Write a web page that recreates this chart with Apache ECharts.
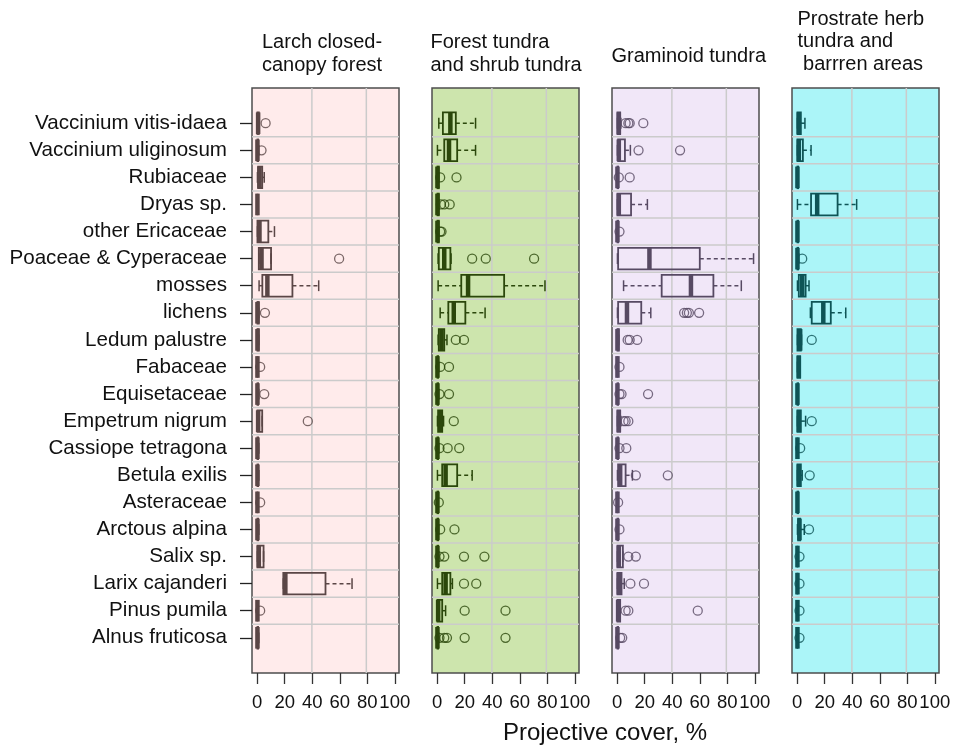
<!DOCTYPE html>
<html>
<head>
<meta charset="utf-8">
<script src="https://cdn.jsdelivr.net/npm/echarts@6/dist/echarts.min.js"></script>
<style>
html,body{margin:0;padding:0;background:#ffffff;}
#chart{width:959px;height:749px;}
</style>
</head>
<body>
<div id="chart"></div>
<script>
// ---------------- DATA ----------------
const categories = [
  "Vaccinium vitis-idaea", "Vaccinium uliginosum", "Rubiaceae", "Dryas sp.",
  "other Ericaceae", "Poaceae & Cyperaceae", "mosses", "lichens",
  "Ledum palustre", "Fabaceae", "Equisetaceae", "Empetrum nigrum",
  "Cassiope tetragona", "Betula exilis", "Asteraceae", "Arctous alpina",
  "Salix sp.", "Larix cajanderi", "Pinus pumila", "Alnus fruticosa"
];

const panelTitles = [
  "Larch closed-\ncanopy forest",
  "Forest tundra\nand shrub tundra",
  "Graminoid tundra",
  "Prostrate herb\ntundra and\n barrren areas"
];

const xTickMin = 0, xTickMax = 100, xTickStep = 20;
const xGridLines = [40, 80];
const xAxisTitle = "Projective cover, %";

// [min, q1, median, q3, max] per category (top to bottom)
const larchStats = [
  [0,0,0.5,1,1], [0,0,0,0.5,1], [0,0.5,1.5,3.5,5], [0,0,0,0,0.5],
  [0,0,1.5,8,12.5], [1,1,3,10,10], [1.2,3.6,7.3,25.7,45], [0,0,0,1,1],
  [0,0,0,1,1], [0,0,0,0,0], [0,0,0,0.5,1], [0,0,0.5,3.5,3.5],
  [0,0,0,0.5,1], [0,0,0,0.5,1], [0,0,0,0,0], [0,0,0,0.5,1],
  [0,0,1,4.5,4.5], [19,19,20.5,50,69.5], [0,0,0,0,0], [0,0,0,0.5,1]
];
const larchOutliers = [
  [6], [3], [], [], [], [60], [], [5.5], [], [2],
  [5], [37], [], [], [2], [], [], [], [2], []
];

const forestTundraStats = [
  [1,4,9.5,13.5,28], [0,5,8.5,14.5,28], [0,0,0,1,1], [0,0,0,1,1],
  [0,0,0,1,1], [0.5,1,5,9.5,10], [0.5,17.5,22.5,49,79], [2,8,12,20.5,35],
  [0.5,1,3,5,7], [0,0,0,0.5,1], [0,0,0,0.5,1], [0,0.5,2,3.5,4.5],
  [0,0,0,0.5,1], [0,3.5,6,14.5,25.5], [0,0,0,0.5,0.5], [0,0,0,0.5,1],
  [0,0,0,0.5,1], [0,3.5,6,9.5,11], [0,0,0.5,3.5,6], [0,0,0,0.5,1]
];
const forestTundraOutliers = [
  [], [], [2,14], [2.5,5,9], [2,3], [25.5,35.5,71], [], [], [13.5,19.5], [2,8.5],
  [1.5,8.5], [12], [1.5,7.5,16], [], [1], [2,12.5], [1.5,5,19.5,34.5], [19.5,28.5], [20,50], [1.5,5,7,20,50]
];

const graminoidStats = [
  [0,0,1,2,2.5], [0,0.5,1,5.5,9.5], [0,0,0,0.5,0.5], [0,0,1,10,22],
  [0,0,0,0.5,0.5], [0,0.5,23.5,60.5,100], [4.5,32.5,54,70.5,91], [0,0.5,7,17.5,24.5],
  [0,0,0,1,1], [0,0,0,0,0], [0,0,0,0.5,0.5], [0,0,1,2,2.5],
  [0,0,0,0.5,0.5], [0,0.5,2,6,11], [0,0,0,0,0], [0,0,0,0.5,0.5],
  [0,0,1,4,4], [0,0,1,3,5], [0,0,0.5,2,2], [0,0,0,0.5,0.5]
];
const graminoidOutliers = [
  [6,8,9,19], [15.5,46], [1,9], [], [1.5], [], [], [49,51,52.5,60], [7.5,9,14.5], [1.5],
  [1.5,3,22.5], [4.5,6,8], [1.5,6.5], [13.5,37], [0.5], [1.5], [8,13.5], [9.5,19.5], [6,8,59], [2,3.5]
];

const prostrateStats = [
  [0,0,1,2.5,5.5], [0,0,1,4,10], [0,0,0,0.5,0.5], [0,10,14.5,29.5,43.5],
  [0,0,0,0.5,0.5], [0,0,0,0.5,1], [0,1,3.5,6,8.5], [9.5,10.5,19,24.5,35.5],
  [0,0,2,2.5,3], [0,0,1,2,2], [0,0,0,0.5,0.5], [0,0,1,2.5,6],
  [0,0,0,0,0], [0,0,1,2.5,3.5], [0,0,0,0.5,0.5], [0,0.5,1.5,2,5],
  [0,0,0,0,0], [0,0,0,0,0], [0,0,0,0,0], [0,0,0,0,0]
];
const prostrateOutliers = [
  [], [], [], [], [], [3.5], [], [], [10.5], [],
  [], [10.5], [2], [9], [], [8.5], [1.5], [1.5], [1.5], [1.5]
];

// ---------------- LAYOUT / STYLE ----------------
const FONT = "'Liberation Sans', Arial, sans-serif";
const panels = [
  {stats: larchStats, outliers: larchOutliers, left: 252, bg: '#FFEBEB', color: '#5a4646', titleLeft: 262, titleTop: 31.5, lh: 22.7},
  {stats: forestTundraStats, outliers: forestTundraOutliers, left: 432, bg: '#CDE5AD', color: '#2b470b', titleLeft: 430.5, titleTop: 31.5, lh: 22.7},
  {stats: graminoidStats, outliers: graminoidOutliers, left: 612, bg: '#F1E7F8', color: '#574a63', titleLeft: 611.5, titleTop: 45, lh: 22.7},
  {stats: prostrateStats, outliers: prostrateOutliers, left: 792, bg: '#ABF5F8', color: '#0e5456', titleLeft: 797.5, titleTop: 8.6, lh: 22.2}
];
const PANEL_W = 147, PANEL_TOP = 88, PANEL_H = 585;
const X_LO = -4, X_HI = 104;           // R-style 4% extension
const Y_LO = -1.3, Y_HI = categories.length + 0.3; // rows 0..19 with extension
const rowPx = PANEL_H / (Y_HI - Y_LO);

function boxRenderer(color) {
  return function (params, api) {
    const k = api.value(0);
    const yc = api.coord([0, k])[1];
    const h = api.size([0, 1])[1] * 0.4;
    const px = [1, 2, 3, 4, 5].map(i => api.coord([api.value(i), k])[0]);
    const xmin = px[0], xq1 = px[1], xmed = px[2], xq3 = px[3], xmax = px[4];
    const ch = [];
    const wStyle = {stroke: color, lineWidth: 1.5, lineDash: [4, 3], fill: 'none'};
    if (xq1 - xmin > 0.5) ch.push({type: 'line', shape: {x1: xmin, y1: yc, x2: xq1, y2: yc}, style: wStyle});
    if (xmax - xq3 > 0.5) ch.push({type: 'line', shape: {x1: xq3, y1: yc, x2: xmax, y2: yc}, style: wStyle});
    const cStyle = {stroke: color, lineWidth: 1.5, fill: 'none'};
    ch.push({type: 'line', shape: {x1: xmin, y1: yc - h / 2, x2: xmin, y2: yc + h / 2}, style: cStyle});
    ch.push({type: 'line', shape: {x1: xmax, y1: yc - h / 2, x2: xmax, y2: yc + h / 2}, style: cStyle});
    ch.push({type: 'rect', shape: {x: xq1, y: yc - h, width: xq3 - xq1, height: 2 * h},
             style: {fill: 'none', stroke: color, lineWidth: 1.8}});
    ch.push({type: 'line', shape: {x1: xmed, y1: yc - h, x2: xmed, y2: yc + h},
             style: {stroke: color, lineWidth: 4.5, fill: 'none'}});
    return {type: 'group', children: ch};
  };
}

function gridRenderer(params, api) {
  const kind = api.value(0), pos = api.value(1);
  let p1, p2;
  if (kind === 0) { p1 = api.coord([pos, Y_LO]); p2 = api.coord([pos, Y_HI]); }
  else { p1 = api.coord([X_LO, pos]); p2 = api.coord([X_HI, pos]); }
  return {type: 'line', shape: {x1: p1[0], y1: p1[1], x2: p2[0], y2: p2[1]},
          style: {stroke: '#cbcbcb', lineWidth: 1.5}};
}

const grid = [], xAxis = [], yAxis = [], series = [], title = [];
const gridLineData = xGridLines.map(v => [0, v]);
for (let k = 0; k < categories.length - 1; k++) gridLineData.push([1, k + 0.5]);

panels.forEach((p, i) => {
  const fg = grid.length;
  grid.push({left: p.left, top: PANEL_TOP, width: PANEL_W, height: PANEL_H, show: true,
             backgroundColor: p.bg, borderColor: '#4d4d4d', borderWidth: 1.5});
  xAxis.push({gridIndex: fg, type: 'value', min: X_LO, max: X_HI, show: false});
  yAxis.push({gridIndex: fg, type: 'value', inverse: true, min: Y_LO, max: Y_HI, show: false});

  const ag = grid.length;
  grid.push({left: p.left + 5.2, top: PANEL_TOP, width: 137.6, height: PANEL_H, show: false});
  xAxis.push({gridIndex: ag, type: 'value', min: xTickMin, max: xTickMax, interval: xTickStep,
              position: 'bottom', offset: 3,
              axisLine: {show: false},
              axisTick: {show: true, length: 11, lineStyle: {color: '#333', width: 1.3}},
              axisLabel: {fontSize: 18.5, margin: 17, color: '#111', fontFamily: FONT, showMinLabel: true, showMaxLabel: true},
              splitLine: {show: false}});
  yAxis.push({gridIndex: ag, type: 'value', min: 0, max: 1, show: false});

  series.push({type: 'custom', xAxisIndex: fg, yAxisIndex: fg, silent: true, z: 1,
               renderItem: gridRenderer, data: gridLineData, encode: {x: 1, y: 1}});
  series.push({type: 'custom', xAxisIndex: fg, yAxisIndex: fg, silent: true, z: 2,
               renderItem: boxRenderer(p.color),
               data: p.stats.map((s, k) => [k].concat(s)),
               encode: {x: [1, 2, 3, 4, 5], y: 0}});
  const outData = [];
  p.outliers.forEach((arr, k) => arr.forEach(v => outData.push([v, k])));
  series.push({type: 'scatter', xAxisIndex: fg, yAxisIndex: fg, silent: true, z: 3,
               symbol: 'circle', symbolSize: 9,
               itemStyle: {color: 'rgba(0,0,0,0)', borderColor: p.color, borderWidth: 1.3},
               data: outData});

  title.push({text: panelTitles[i], left: p.titleLeft, top: p.titleTop, padding: 0,
              textStyle: {fontFamily: FONT, fontSize: 20, fontWeight: 'normal', color: '#111', lineHeight: p.lh}});
});

// category label grid for first panel
const lg = grid.length;
grid.push({left: panels[0].left, top: PANEL_TOP + (-0.5 - Y_LO) * rowPx, width: PANEL_W,
           height: categories.length * rowPx, show: false});
xAxis.push({gridIndex: lg, type: 'value', min: 0, max: 1, show: false});
yAxis.push({gridIndex: lg, type: 'category', data: categories, inverse: true,
            axisLine: {show: false},
            axisTick: {show: true, alignWithLabel: true, length: 12, lineStyle: {color: '#222', width: 1.3}},
            axisLabel: {interval: 0, fontSize: 20.6, margin: 25, color: '#111', fontFamily: FONT, padding: [4, 0, 0, 0]},
            splitLine: {show: false}});

title.push({text: xAxisTitle, left: 503, top: 719.5, padding: 0,
            textStyle: {fontFamily: FONT, fontSize: 24, fontWeight: 'normal', color: '#111', lineHeight: 28}});

const chart = echarts.init(document.getElementById('chart'), null, {renderer: 'canvas'});
chart.setOption({animation: false, backgroundColor: '#ffffff', title, grid, xAxis, yAxis, series});
</script>
</body>
</html>
